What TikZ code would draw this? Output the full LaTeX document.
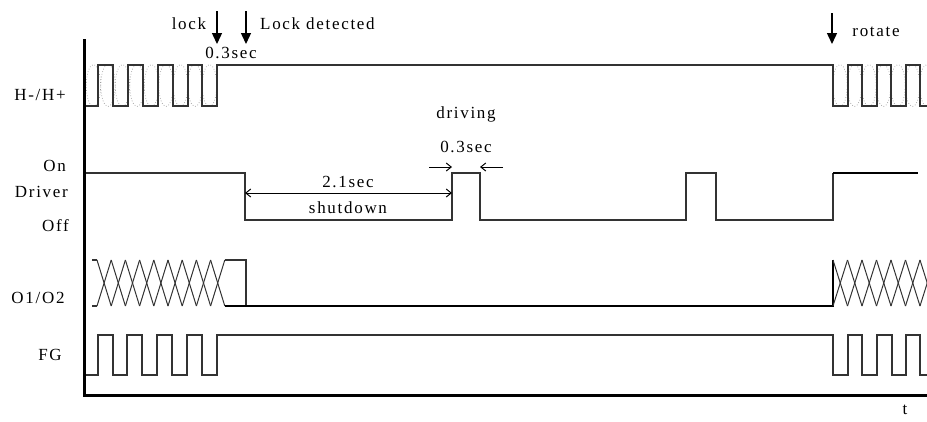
\documentclass[tikz,border=0pt]{standalone}
\usepackage{fontspec}
\setmainfont{Liberation Serif}[LetterSpace=10]
\usetikzlibrary{arrows.meta}

\begin{document}
\begin{tikzpicture}[x=1pt,y=-1pt,font=\fontsize{17}{19}\selectfont,
  sig/.style={draw=black!80,line width=1.3pt},
  halo/.style={draw=black!40,dotted,line width=0.7pt},
  dim/.style={draw=black,line width=1pt,-{Straight Barb[length=5pt,width=8pt]}},
  push/.style={draw=black,line width=1.4pt,-{Triangle[length=11pt,width=10pt]}},
  lbl/.style={inner sep=1pt}]
\useasboundingbox (0,0) rectangle (927,421);

\draw[line width=3pt] (84,39) -- (84,395) -- (927,395);

\foreach \c in {93.5,108,122.5,137,151.5,166,180.5,195,209.5} \draw[halo] (\c,85.5) ellipse (7.2pt and 21pt);
\foreach \c in {840,854.5,869,883.5,898,912.5,927} \draw[halo] (\c,85.5) ellipse (7.2pt and 21pt);
\draw[sig] (86,106) -- (98,106) -- (98,65) -- (113,65) -- (113,106) -- (128,106) -- (128,65) -- (143,65) -- (143,106) -- (158,106) -- (158,65) -- (173,65) -- (173,106) -- (188,106) -- (188,65) -- (202,65) -- (202,106) -- (217,106) -- (217,65) -- (833,65) -- (833,106) -- (848,106) -- (848,65) -- (862,65) -- (862,106) -- (877,106) -- (877,65) -- (891,65) -- (891,106) -- (906,106) -- (906,65) -- (920,65) -- (920,106) -- (927,106);

\draw[sig] (86,173) -- (245,173) -- (245,220) -- (452,220) -- (452,173) -- (480,173) -- (480,220) -- (686,220) -- (686,173) -- (716,173) -- (716,220) -- (833,220) -- (833,173);
\draw[line width=1.6pt] (833,173) -- (918,173);

\draw[sig] (92,260) -- (97,260);
\draw[sig] (92,306) -- (97,306);
\foreach \i in {0,...,8} {
  \draw[sig,line width=1pt] ({97+14.2*\i},260) -- ({111.2+14.2*\i},306);
  \draw[sig,line width=1pt] ({97+14.2*\i},306) -- ({111.2+14.2*\i},260);
}
\draw[sig] (225,260) -- (246,260) -- (246,306);
\draw[line width=1.6pt] (225,306) -- (833,306) -- (833,260);
\foreach \i in {0,...,6} {
  \draw[sig,line width=1pt] ({833+14.5*\i},260) -- ({847.5+14.5*\i},306);
  \draw[sig,line width=1pt] ({833+14.5*\i},306) -- ({847.5+14.5*\i},260);
}

\draw[sig] (86,375) -- (98,375) -- (98,335) -- (113,335) -- (113,375) -- (127,375) -- (127,335) -- (142,335) -- (142,375) -- (157,375) -- (157,335) -- (172,335) -- (172,375) -- (187,375) -- (187,335) -- (202,335) -- (202,375) -- (217,375) -- (217,335) -- (833,335) -- (833,375) -- (848,375) -- (848,335) -- (862,335) -- (862,375) -- (877,375) -- (877,335) -- (892,335) -- (892,375) -- (906,375) -- (906,335) -- (920,335) -- (920,375) -- (927,375);

\node[lbl] (hall) at (40,95) {H-/H+};
\node[lbl,anchor=east] (on) at (67,166) {On};
\node[lbl,anchor=east] (drv) at (69,192) {Driver};
\node[lbl,anchor=east] (off) at (70,226) {Off};
\node[lbl] (out) at (38,298) {O1/O2};
\node[lbl] (fg) at (50,355) {FG};
\node[lbl] (t) at (905,410) {t};

\node[lbl] (lock) at (189,24) {lock};
\node[lbl,anchor=west] (detect) at (259,24) {Lock detected};
\node[lbl] (gap) at (231,53) {0.3sec};
\node[lbl] (rot) at (876,32) {rotate};
\coordinate (a0) at (217,11);
\coordinate (a1) at (217,44);
\coordinate (b0) at (246,11);
\coordinate (b1) at (246,44);
\coordinate (c0) at (832,13);
\coordinate (c1) at (832,44);
\draw[push] (a0) -- (a1);
\draw[push] (b0) -- (b1);
\draw[push] (c0) -- (c1);

\coordinate (s0) at (245,193);
\coordinate (s1) at (452,193);
\draw[dim,{Straight Barb[length=5pt,width=8pt]}-{Straight Barb[length=5pt,width=8pt]}] (s0) -- (s1);
\node[lbl] (span) at (348,182) {2.1sec};
\node[lbl] (shut) at (348,208) {shutdown};

\coordinate (p0) at (429,167);
\coordinate (p1) at (452,167);
\coordinate (q0) at (503,167);
\coordinate (q1) at (480,167);
\draw[dim] (p0) -- (p1);
\draw[dim] (q0) -- (q1);
\node[lbl] (pulse) at (466,147) {0.3sec};
\node[lbl] (drive) at (466,114) {driving};
\end{tikzpicture}
\end{document}
